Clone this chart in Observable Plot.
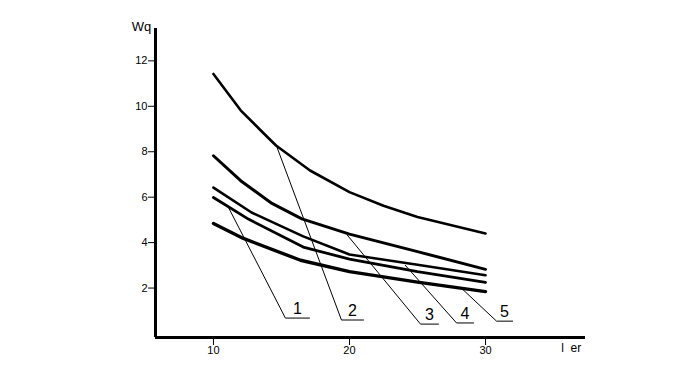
<!DOCTYPE html>
<html><head><meta charset="utf-8">
<script src="https://cdn.jsdelivr.net/npm/d3@7"></script>
<script src="https://cdn.jsdelivr.net/npm/@observablehq/plot@0.6"></script>
<style>body{margin:0;background:#fff;} svg{display:block;}</style>
</head><body><div id="chart"></div>
<script>
// curves: [l er, Wq]
const curveA = [[10,11.6],[12,10.0],[13.5,9.1],[14.6,8.45],[17.1,7.35],[20,6.4],[22.5,5.8],[25,5.3],[30,4.58]];
const curveB = [[10,8.0],[12,6.9],[14.3,5.9],[16.5,5.22],[20,4.55],[25,3.78],[30,3.0]];
const curveC = [[10,6.6],[12.8,5.5],[16.6,4.45],[20,3.65],[25,3.2],[30,2.74]];
const curveD = [[10,6.16],[12.6,5.2],[16.6,3.98],[20,3.45],[25,2.9],[30,2.43]];
const curveE = [[10,5.02],[12.2,4.36],[16.4,3.4],[20,2.9],[25,2.44],[30,2.02]];
const curveWidths = [2.6, 3.0, 2.6, 2.8, 3.4];

// leader lines: start on curve, kink, end of underline
const leaderIds = ["1","2","3","4","5"];
const leaderStart = [[11.03,5.81],[14.63,8.44],[19.85,4.5],[24.1,3.18],[28.3,2.13]];
const leaderKink  = [[15.29,0.855],[19.41,0.77],[25.22,0.59],[27.87,0.64],[30.81,0.72]];
const leaderEnd   = [[17.06,0.855],[21.03,0.77],[26.54,0.59],[29.12,0.64],[31.99,0.72]];

const yTicks = [2,4,6,8,10,12];
const xTicks = [10,20,30];
const xDomain = [5.74, 37.35];
const yDomain = [0, 13.6];
const yTitle = "Wq";
const xTitle = "l  er";

const curves = [curveA, curveB, curveC, curveD, curveE];
const leaderRows = leaderIds.flatMap((id, i) => [
  {x: leaderStart[i][0], y: leaderStart[i][1], id},
  {x: leaderKink[i][0], y: leaderKink[i][1], id},
  {x: leaderEnd[i][0], y: leaderEnd[i][1], id}
]);
const labelRows = leaderIds.map((id, i) => ({x: (leaderKink[i][0] + leaderEnd[i][0]) / 2, y: leaderKink[i][1], id}));

const font = "'Liberation Sans Narrow', 'Liberation Sans', sans-serif";

const chart = Plot.plot({
  width: 690, height: 367,
  marginLeft: 155, marginRight: 105, marginTop: 28, marginBottom: 30,
  x: {domain: xDomain},
  y: {domain: yDomain},
  style: {fontFamily: font, fontSize: "11px", color: "#000", background: "#fff"},
  marks: [
    Plot.ruleY([0], {stroke: "#000", strokeWidth: 3}),
    Plot.ruleX([xDomain[0]], {y1: yDomain[0], y2: yDomain[1], stroke: "#000", strokeWidth: 3}),
    Plot.axisY({ticks: yTicks, tickSize: 7, tickPadding: 1, dy: -4, label: null, stroke: "#000", fill: "#000"}),
    Plot.axisX({ticks: xTicks, tickSize: 8, tickPadding: 1, label: null, stroke: "#000", fill: "#000"}),
    ...curves.map((c, i) => Plot.line(c, {x: d => d[0], y: d => d[1], stroke: "#000", strokeWidth: curveWidths[i], strokeLinejoin: "round"})),
    Plot.line(leaderRows, {x: "x", y: "y", z: "id", stroke: "#000", strokeWidth: 1}),
    Plot.text(labelRows, {x: "x", y: "y", text: "id", dy: -9, fontSize: 16, fill: "#000"}),
    Plot.text([yTitle], {x: xDomain[0], y: yDomain[1], text: d => d, dx: -14, dy: -2, fontSize: 13, fill: "#000"}),
    Plot.text([xTitle], {x: 36.3, y: 0, text: d => d, dy: 11, fontSize: 12, fill: "#000"})
  ]
});
document.getElementById("chart").appendChild(chart);
</script>
</body></html>
